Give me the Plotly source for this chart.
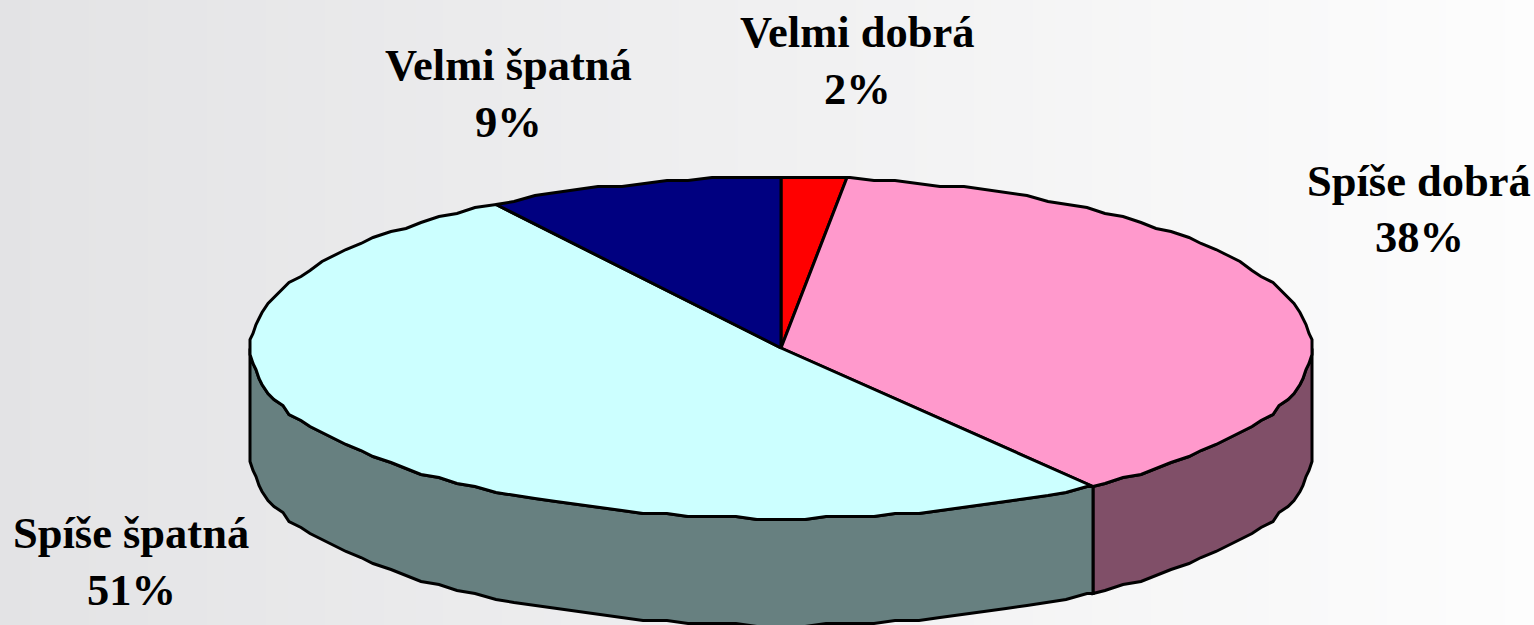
import numpy as np
import plotly.graph_objects as go

# ---- data ----
categories = ["Velmi dobrá", "Spíše dobrá", "Spíše špatná", "Velmi špatná"]
values = [2, 38, 51, 9]
top_colors = ["#ff0000", "#ff99cc", "#ccffff", "#000080"]
side_colors = ["#800000", "#804f68", "#678080", "#000040"]

# ---- layout ----
W, H = 1534, 625
CX, CY, RX, RY, DEPTH = 781, 348, 531, 170.5, 107
GX, GY = 3.0, 3.0   # the coarse device grid that gives the reference its rough outline
STEP = 2.5
FONT = dict(family="Liberation Serif", size=44.5, color="#000000")
label_pos = {
    "Velmi dobrá": (857, 32, 89),
    "Spíše dobrá": (1419, 181, 237),
    "Spíše špatná": (131, 533, 590),
    "Velmi špatná": (508, 65, 122),
}


def rim(a0, a1, dy=0.0):
    """Points on the ellipse between two clockwise-from-top angles in degrees."""
    inner = np.arange(np.ceil(a0 / STEP) * STEP, a1, STEP)
    t = np.radians(np.unique(np.r_[a0, inner, a1]))
    x0, y0 = CX - RX, CY - RY
    x = np.round((CX + RX * np.sin(t) - x0) / GX) * GX + x0
    y = np.round((CY - RY * np.cos(t) - y0) / GY) * GY + y0 + dy
    return x, y


edges = np.cumsum([0] + values) / sum(values) * 360.0
fig = go.Figure()

# background gradient
bg_x = np.linspace(0, W, 64)
fig.add_trace(go.Heatmap(
    x=bg_x, y=[0, H], z=[bg_x, bg_x],
    colorscale=[[0, "#e3e3e5"], [1, "#fdfdfd"]],
    showscale=False, hoverinfo="skip", zsmooth="best",
))

# visible part of the side wall: rightmost (90 deg) through the front to leftmost (270 deg)
for i, c in enumerate(categories):
    a0, a1 = max(edges[i], 90.0), min(edges[i + 1], 270.0)
    if a1 <= a0:
        continue
    xt, yt = rim(a0, a1)
    xb, yb = rim(a0, a1, DEPTH)
    fig.add_trace(go.Scatter(
        x=np.r_[xt, xb[::-1], xt[0]], y=np.r_[yt, yb[::-1], yt[0]],
        mode="lines", fill="toself", fillcolor=side_colors[i],
        line=dict(color="#000000", width=3), hoverinfo="skip", showlegend=False,
    ))

# top slices
for i, c in enumerate(categories):
    xt, yt = rim(edges[i], edges[i + 1])
    fig.add_trace(go.Scatter(
        x=np.r_[CX, xt, CX], y=np.r_[CY, yt, CY],
        mode="lines", fill="toself", fillcolor=top_colors[i],
        line=dict(color="#000000", width=3), hoverinfo="skip", showlegend=False,
    ))

# labels
for c, v in zip(categories, values):
    lx, y1, y2 = label_pos[c]
    fig.add_annotation(x=lx, y=y1, text=f"<b>{c}</b>", showarrow=False, font=FONT,
                       xanchor="center", yanchor="middle")
    fig.add_annotation(x=lx, y=y2, text=f"<b>{v}%</b>", showarrow=False, font=FONT,
                       xanchor="center", yanchor="middle")

fig.update_layout(
    width=W, height=H, margin=dict(l=0, r=0, t=0, b=0),
    paper_bgcolor="#ffffff", plot_bgcolor="#ffffff", showlegend=False,
    xaxis=dict(range=[0, W], visible=False, fixedrange=True),
    yaxis=dict(range=[H, 0], visible=False, fixedrange=True),
)
fig.write_html("out.html", config=dict(displayModeBar=False),
               post_script="document.body.style.margin='0';document.body.style.overflow='hidden';")
